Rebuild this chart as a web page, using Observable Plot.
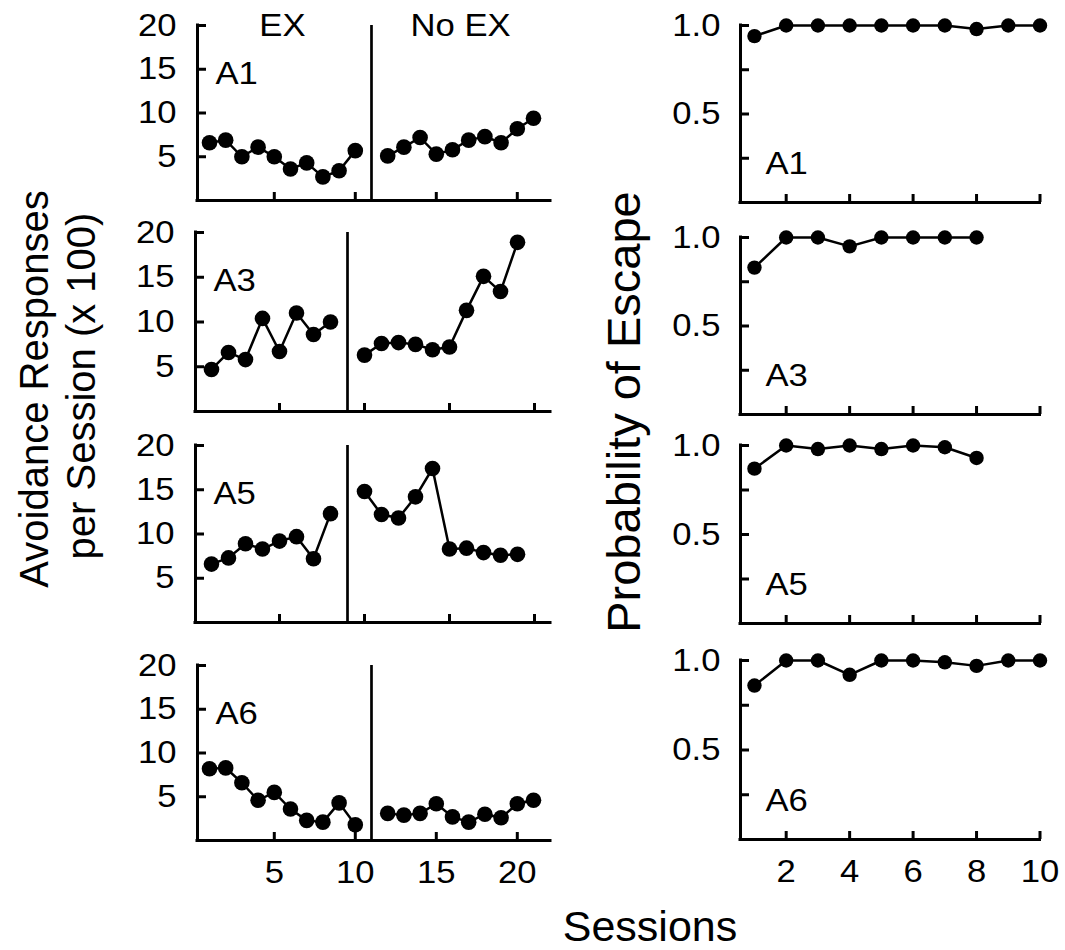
<!DOCTYPE html>
<html>
<head>
<meta charset="utf-8">
<script src="https://cdn.jsdelivr.net/npm/d3@7"></script>
<script src="https://cdn.jsdelivr.net/npm/@observablehq/plot@0.6"></script>
<style>
  html, body { margin: 0; padding: 0; background: #fff; }
  #chart { position: relative; width: 1065px; height: 950px; overflow: hidden;
           font-family: "Liberation Sans", Arial, sans-serif; color: #000; }
  #chart svg { position: absolute; left: 0; top: 0; }
  .ttl { position: absolute; white-space: nowrap; line-height: 1; color: #000; }
</style>
</head>
<body>
<div id="chart"></div>
<script>
// ---------- data ----------
const animals = ["A1", "A3", "A5", "A6"];
const phases = ["EX", "No EX"];

// Avoidance responses per session (x 100)
const exA1   = [6.6, 6.9, 5.0, 6.1, 5.0, 3.6, 4.3, 2.7, 3.4, 5.7];
const noExA1 = [5.1, 6.1, 7.2, 5.3, 5.8, 6.9, 7.3, 6.6, 8.2, 9.4];
const exA3   = [4.7, 6.6, 5.8, 10.4, 6.7, 11.0, 8.6, 10.0];
const noExA3 = [6.3, 7.6, 7.7, 7.5, 6.9, 7.2, 11.3, 15.1, 13.4, 18.9];
const exA5   = [6.6, 7.3, 8.9, 8.3, 9.2, 9.7, 7.2, 12.3];
const noExA5 = [14.8, 12.2, 11.8, 14.2, 17.4, 8.3, 8.4, 7.9, 7.6, 7.7];
const exA6   = [8.2, 8.3, 6.6, 4.6, 5.5, 3.6, 2.3, 2.1, 4.3, 1.8];
const noExA6 = [3.1, 2.9, 3.1, 4.2, 2.7, 2.1, 3.0, 2.6, 4.2, 4.6];
const noExFirstSession = [12, 10, 10, 12];

// Probability of escape
const escA1 = [0.94, 1.0, 1.0, 1.0, 1.0, 1.0, 1.0, 0.98, 1.0, 1.0];
const escA3 = [0.83, 1.0, 1.0, 0.95, 1.0, 1.0, 1.0, 1.0];
const escA5 = [0.87, 1.0, 0.98, 1.0, 0.98, 1.0, 0.99, 0.93];
const escA6 = [0.86, 1.0, 1.0, 0.92, 1.0, 1.0, 0.99, 0.97, 1.0, 1.0];

// ticks
const leftYTicks = [5, 10, 15, 20];
const leftXTicks = [5, 10, 15, 20];
const rightYTicks = [0.25, 0.5, 0.75, 1.0];
const rightYLabels = [0.5, 1.0];
const rightXTicks = [2, 4, 6, 8, 10];

const exSets = [exA1, exA3, exA5, exA6];
const noExSets = [noExA1, noExA3, noExA5, noExA6];
const escSets = [escA1, escA3, escA5, escA6];

// ---------- layout ----------
const W = 1065, H = 950;
const FONT = "'Liberation Sans', Arial, sans-serif";
const TICK_FS = 31.5;
const STRETCH = 1.1;
const leftLayout = [
  {x0: 197, x1: 550, top: 25,  bottom: 200, xdom: [0.26, 22.05]},
  {x0: 195, x1: 550, top: 232, bottom: 411, xdom: [0.06, 20.94]},
  {x0: 195, x1: 550, top: 445, bottom: 622, xdom: [0.06, 20.94]},
  {x0: 197, x1: 550, top: 665, bottom: 840, xdom: [0.26, 22.05]}
];
const rightLayout = [
  {x0: 740, x1: 1039.5, top: 25,  bottom: 202, xdom: [0.56, 10]},
  {x0: 740, x1: 1039.5, top: 237, bottom: 414, xdom: [0.56, 10]},
  {x0: 740, x1: 1039.5, top: 445, bottom: 623, xdom: [0.56, 10]},
  {x0: 740, x1: 1039.5, top: 660, bottom: 839, xdom: [0.56, 10]}
];

const chart = document.getElementById("chart");

function mount(svg) {
  chart.appendChild(svg);
  svg.querySelectorAll("text").forEach(t => {
    const len = t.getComputedTextLength();
    if (len > 0) {
      t.setAttribute("textLength", (len * STRETCH).toFixed(2));
      t.setAttribute("lengthAdjust", "spacingAndGlyphs");
    }
  });
}

function baseOptions(L) {
  return {
    width: W, height: H,
    marginLeft: L.x0, marginRight: W - L.x1,
    marginTop: L.top, marginBottom: H - L.bottom,
    style: {background: "transparent", fontFamily: FONT, fontSize: TICK_FS + "px", color: "#000", overflow: "visible"}
  };
}

// ---------- left column ----------
animals.forEach((animal, i) => {
  const L = leftLayout[i];
  const ex = exSets[i], noEx = noExSets[i];
  const data = [
    ...ex.map((v, k) => ({session: k + 1, value: v, phase: phases[0]})),
    ...noEx.map((v, k) => ({session: noExFirstSession[i] + k, value: v, phase: phases[1]}))
  ];
  const sep = (ex.length + noExFirstSession[i]) / 2;
  const isTop = i === 0, isBottom = i === animals.length - 1;
  const phaseCenters = phases.map(p => ({label: p, session: d3.mean(data.filter(d => d.phase === p), d => d.session)}));
  const svg = Plot.plot({
    ...baseOptions(L),
    x: {domain: L.xdom},
    y: {domain: [0, 20]},
    marks: [
      Plot.ruleX([sep], {stroke: "#000", strokeWidth: 2.7}),
      Plot.ruleX([L.xdom[0]], {stroke: "#000", strokeWidth: 3, strokeLinecap: "square"}),
      Plot.ruleY([0], {stroke: "#000", strokeWidth: 3, strokeLinecap: "square"}),
      Plot.axisY(leftYTicks, {anchor: "left", tickSize: -9, strokeWidth: 3, fill: "none", label: null}),
      Plot.axisY(leftYTicks, {anchor: "left", tickSize: 0, tickPadding: 21, label: null}),
      Plot.axisX(leftXTicks, {anchor: "bottom", tickSize: -8, strokeWidth: 3, fill: "none", label: null}),
      isBottom ? Plot.axisX(leftXTicks, {anchor: "bottom", tickSize: 0, tickPadding: 20, label: null}) : null,
      Plot.line(data, {x: "session", y: "value", z: "phase", stroke: "#000", strokeWidth: 2.5}),
      Plot.dot(data, {x: "session", y: "value", r: 7.8, fill: "#000", stroke: "none"}),
      Plot.text([animal], {text: d => d, frameAnchor: "top-left", dx: 18, dy: 48, textAnchor: "start", lineAnchor: "middle", fontSize: TICK_FS}),
      isTop ? Plot.text(phaseCenters, {x: "session", text: "label", frameAnchor: "top", lineAnchor: "middle", fontSize: TICK_FS}) : null
    ]
  });
  mount(svg);
});

// ---------- right column ----------
animals.forEach((animal, i) => {
  const L = rightLayout[i];
  const data = escSets[i].map((p, k) => ({session: k + 1, p}));
  const isBottom = i === animals.length - 1;
  const svg = Plot.plot({
    ...baseOptions(L),
    x: {domain: L.xdom},
    y: {domain: [0, 1]},
    marks: [
      Plot.ruleX([L.xdom[0]], {stroke: "#000", strokeWidth: 3, strokeLinecap: "square"}),
      Plot.ruleY([0], {stroke: "#000", strokeWidth: 3, strokeLinecap: "square"}),
      Plot.axisY(rightYTicks, {anchor: "left", tickSize: -9, strokeWidth: 3, fill: "none", label: null}),
      Plot.axisY(rightYLabels, {anchor: "left", tickSize: 0, tickPadding: 20, tickFormat: d3.format(".1f"), label: null}),
      Plot.axisX(rightXTicks, {anchor: "bottom", tickSize: -8, strokeWidth: 3, fill: "none", label: null}),
      isBottom ? Plot.axisX(rightXTicks, {anchor: "bottom", tickSize: 0, tickPadding: 20, label: null}) : null,
      Plot.line(data, {x: "session", y: "p", stroke: "#000", strokeWidth: 2.5}),
      Plot.dot(data, {x: "session", y: "p", r: 7.2, fill: "#000", stroke: "none"}),
      Plot.text([animal], {text: d => d, frameAnchor: "bottom-left", dx: 25, dy: -39, textAnchor: "start", lineAnchor: "middle", fontSize: TICK_FS})
    ]
  });
  mount(svg);
});

// ---------- axis titles ----------
function title(text, fs, cx, cy, rotate) {
  const d = document.createElement("div");
  d.className = "ttl";
  d.textContent = text;
  d.style.fontSize = fs + "px";
  d.style.left = cx + "px";
  d.style.top = cy + "px";
  d.style.transform = "translate(-50%, -50%)" + (rotate ? " rotate(-90deg)" : "");
  chart.appendChild(d);
}
title("Avoidance Responses", 40, 34, 389, true);
title("per Session (x 100)", 40, 81, 386, true);
title("Probability of Escape", 47, 623, 412, true);
title("Sessions", 43, 650, 926, false);
</script>
</body>
</html>
